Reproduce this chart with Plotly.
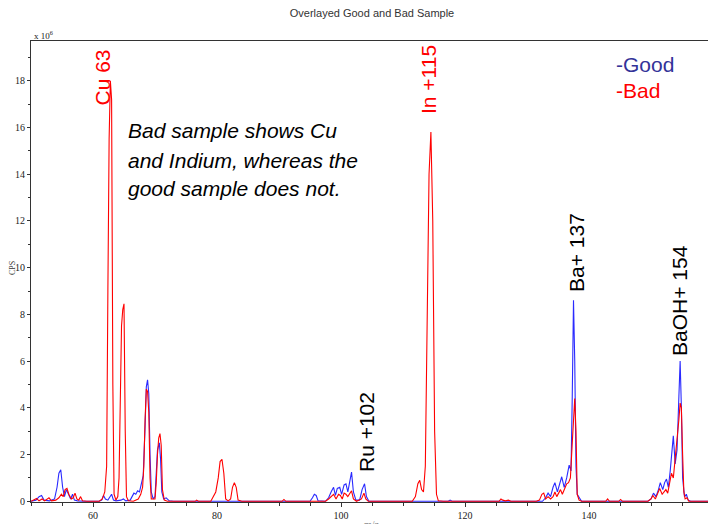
import plotly.graph_objects as go

# ---------------- data (CPS in units of 10^6) ----------------
good_mz = [50.0, 50.8, 51.3, 51.7, 52.1, 52.6, 53.0, 53.8, 54.2, 54.5, 54.8, 55.1, 55.4, 55.7, 56.0, 56.4, 56.7, 57.0,
           57.5, 58.5, 61.0, 61.4, 61.7, 62.0, 62.4, 62.7, 63.0, 63.3, 63.7, 64.5, 64.9, 65.3, 66.0, 66.3, 66.6, 66.9,
           67.2, 67.5, 67.8, 68.1, 68.4, 68.6, 68.8, 69.0, 69.2, 69.4, 69.7, 70.0, 70.2, 70.4, 70.7, 70.9, 71.1, 71.4,
           71.8, 72.3, 73.0, 95.0, 95.4, 95.7, 96.0, 96.3, 97.5, 98.0, 98.4, 98.8, 99.1, 99.4, 99.8, 100.1, 100.5,
           100.8, 101.1, 101.4, 101.7, 102.0, 102.4, 103.0, 103.4, 103.8, 104.1, 104.5, 117.3, 117.6, 117.9, 132.5,
           133.0, 133.4, 133.8, 134.2, 134.5, 134.9, 135.3, 135.6, 136.0, 136.4, 136.8, 137.1, 137.3, 137.5, 137.7,
           137.9, 138.1, 138.4, 138.8, 149.5, 150.0, 150.4, 150.8, 151.2, 151.5, 151.9, 152.2, 152.5, 152.8, 153.1,
           153.4, 153.6, 153.9, 154.2, 154.5, 154.7, 154.9, 155.1, 155.4, 155.7, 156.0, 156.4, 160.0]
good_cps = [0, 0.05, 0.2, 0.25, 0.05, 0.05, 0.02, 0.1, 0.6, 1.2, 1.35, 0.6, 0.2, 0.5, 0.3, 0.1, 0.3, 0.05,
            0.02, 0, 0, 0.05, 0.25, 0.1, 0.05, 0.2, 0.3, 0.05, 0.02, 0.05, 0.1, 0.02, 0.05, 0.2, 0.35, 0.3,
            0.45, 0.4, 0.7, 1.1, 3.2, 4.9, 5.2, 4.6, 2.0, 0.4, 0.1, 0.2, 1.2, 2.2, 2.5, 1.8, 0.4, 0.1,
            0.15, 0.02, 0, 0, 0.15, 0.3, 0.25, 0.02, 0, 0.15, 0.4, 0.6, 0.25, 0.55, 0.6, 0.3, 0.7,
            0.75, 0.4, 0.9, 1.25, 0.4, 0.05, 0.05, 0.5, 0.75, 0.2, 0, 0, 0.05, 0, 0,
            0.15, 0.35, 0.2, 0.6, 0.8, 0.4, 0.8, 1.05, 0.6, 1.0, 1.55, 1.3, 4.5, 8.6, 6.0,
            1.5, 0.3, 0.15, 0, 0, 0.1, 0.35, 0.2, 0.5, 0.8, 0.5, 0.8, 0.95, 0.6, 1.3,
            2.4, 2.8, 1.6, 2.2, 4.5, 6.0, 4.0, 1.0, 0.2, 0.3, 0.05, 0, 0]

bad_mz = [50.0, 50.5, 50.9, 51.3, 51.8, 52.2, 52.9, 53.3, 54.0, 54.5, 54.9, 55.2, 55.5, 55.8, 56.1, 56.5, 56.8, 57.1,
          57.4, 57.7, 58.0, 58.3, 59.0, 61.0, 61.5, 61.9, 62.2, 62.4, 62.6, 62.8, 63.0, 63.2, 63.4, 63.7, 64.0, 64.2,
          64.4, 64.6, 64.8, 65.0, 65.2, 65.4, 65.7, 66.5, 67.3, 67.7, 68.0, 68.2, 68.4, 68.6, 68.8, 69.0, 69.2, 69.4,
          70.0, 70.2, 70.4, 70.6, 70.8, 71.0, 71.2, 71.5, 72.0, 76.5, 76.7, 77.0, 79.0, 79.4, 79.8, 80.2, 80.5, 80.8,
          81.1, 81.4, 81.8, 82.2, 82.5, 82.8, 83.1, 83.4, 84.0, 90.5, 90.8, 91.1, 97.5, 98.0, 98.5, 98.8, 99.2, 99.6,
          99.9, 100.2, 100.5, 100.8, 101.1, 101.4, 101.7, 102.0, 102.5, 103.3, 103.7, 104.0, 104.4, 111.5, 112.0,
          112.4, 112.7, 113.0, 113.3, 113.6, 113.9, 114.2, 114.5, 114.8, 115.1, 115.4, 115.7, 116.5, 125.5, 125.8,
          126.1, 126.5, 127.0, 127.4, 131.5, 132.0, 132.4, 132.7, 133.0, 133.4, 133.8, 134.2, 134.5, 134.8, 135.1,
          135.4, 135.7, 136.0, 136.4, 136.7, 137.0, 137.3, 137.5, 137.7, 137.9, 138.1, 138.4, 138.8, 142.7, 143.0,
          143.3, 144.8, 145.1, 145.4, 149.5, 150.0, 150.3, 150.7, 151.1, 151.4, 151.8, 152.1, 152.4, 152.7, 153.0,
          153.3, 153.6, 153.9, 154.2, 154.5, 154.7, 154.9, 155.1, 155.3, 155.5, 155.8, 156.1, 160.0]
bad_cps = [0, 0.05, 0.12, 0.02, 0.1, 0.02, 0.15, 0.02, 0.05, 0.15, 0.3, 0.2, 0.5, 0.55, 0.3, 0.1, 0.15, 0.35,
           0.1, 0.05, 0.2, 0.02, 0, 0, 0.1, 0.4, 1.5, 9.0, 15.5, 18.0, 17.2, 5.0, 0.3, 0.05, 0.2, 1.0,
           5.0, 7.5, 8.2, 8.45, 3.0, 0.2, 0.02, 0, 0.1, 0.3, 0.6, 1.5, 3.5, 4.8, 4.7, 3.8, 1.0, 0.1,
           0.1, 0.8, 2.0, 2.7, 2.9, 2.4, 0.5, 0.05, 0, 0, 0.05, 0, 0, 0.2, 0.4, 1.0, 1.7, 1.8,
           1.2, 0.1, 0.02, 0.1, 0.6, 0.8, 0.6, 0.05, 0, 0, 0.08, 0, 0, 0.1, 0.25, 0.3, 0.1, 0.3,
           0.25, 0.1, 0.35, 0.3, 0.2, 0.3, 0.45, 0.1, 0, 0.1, 0.35, 0.1, 0, 0, 0.2,
           0.75, 0.9, 0.5, 0.4, 1.5, 7.0, 14.0, 15.8, 12.0, 3.0, 0.3, 0.02, 0, 0, 0.1,
           0.05, 0.02, 0.05, 0, 0, 0.05, 0.3, 0.35, 0.1, 0.2, 0.1, 0.2, 0.4, 0.2, 0.35,
           0.5, 0.3, 0.5, 0.75, 0.8, 1.0, 2.5, 3.5, 4.4, 3.0, 0.3, 0.05, 0, 0, 0.1,
           0, 0, 0.08, 0, 0, 0.1, 0.25, 0.1, 0.35, 0.55, 0.3, 0.4, 0.5, 0.35, 0.8,
           1.2, 1.0, 1.8, 2.4, 3.5, 4.2, 4.0, 2.0, 0.4, 0.1, 0.15, 0, 0]

x_tick_vals = [60, 80, 100, 120, 140, 160]
y_tick_vals = [0, 2, 4, 6, 8, 10, 12, 14, 16, 18]

peak_labels = ["Cu 63", "In +115", "Ru +102", "Ba+ 137", "BaOH+ 154"]
note_lines = ["Bad sample shows Cu", "and Indium, whereas the", "good sample does not."]
legend_labels = ["-Good", "-Bad"]

# ---------------- figure ----------------
# the page body has an 8px default margin, so the figure is shrunk by that much
OFF = 8
PAGE_W, PAGE_H = 716, 524
W, H = PAGE_W - OFF, PAGE_H - OFF
# plot area in page pixels: x 31..713, y 41..502
L, R, T, B = 31 - OFF, PAGE_W - 713, 41 - OFF, PAGE_H - 502
PW, PH = W - L - R, H - T - B


def px(xp):
    """page pixel x -> paper x"""
    return (xp - OFF - L) / PW


def py(yp):
    """page pixel y -> paper y"""
    return (H - B - (yp - OFF)) / PH


fig = go.Figure()
fig.add_trace(go.Scatter(x=good_mz, y=good_cps, mode="lines", name="Good",
                         line=dict(color="#2a2aff", width=1.1), showlegend=False))
fig.add_trace(go.Scatter(x=bad_mz, y=bad_cps, mode="lines", name="Bad",
                         line=dict(color="#ff0000", width=1.1), showlegend=False))

serif = "Liberation Serif, Times New Roman, serif"
sans = "Liberation Sans, Arial, sans-serif"

fig.update_layout(
    width=W, height=H,
    margin=dict(l=L, r=R, t=T, b=B, pad=0),
    paper_bgcolor="white", plot_bgcolor="white",
    title=dict(text="Overlayed Good and Bad Sample", x=(372 - OFF) / W, xanchor="center",
               y=1 - (13 - OFF) / H, yanchor="middle",
               font=dict(family=sans, size=11, color="#333")),
    xaxis=dict(range=[50, 160], tickvals=x_tick_vals, ticks="outside", ticklen=4, tickcolor="#333",
               showgrid=False, zeroline=False, showline=True, linecolor="#333", linewidth=1, mirror=True,
               tickfont=dict(family=serif, size=10, color="#222"),
               minor=dict(dtick=5, ticks="outside", ticklen=3, tickcolor="#333", showgrid=False)),
    yaxis=dict(range=[-0.03, 19.7], tickvals=y_tick_vals, ticks="outside", ticklen=3, tickcolor="#333",
               showgrid=False, zeroline=False, showline=True, linecolor="#333", linewidth=1, mirror=True,
               tickfont=dict(family=serif, size=10, color="#222"),
               minor=dict(dtick=1, ticks="outside", ticklen=2, tickcolor="#333", showgrid=False)),
)

ann = []
# axis decorations
ann.append(dict(text="x 10<sup>6</sup>", x=px(32), y=py(35), xref="paper", yref="paper", xanchor="left",
                yanchor="middle", showarrow=False, font=dict(family=serif, size=9, color="#222")))
ann.append(dict(text="CPS", x=px(12), y=py(268), xref="paper", yref="paper", xanchor="center",
                yanchor="middle", textangle=-90, showarrow=False, font=dict(family=serif, size=8, color="#333")))
ann.append(dict(text="m/z", x=px(372), y=py(517), xref="paper", yref="paper", xanchor="center",
                yanchor="top", showarrow=False, font=dict(family=serif, size=10, color="#888")))

# peak labels (rotated)
label_specs = [
    (peak_labels[0], 101.5, 78, "#ff0000"),
    (peak_labels[1], 428, 80, "#ff0000"),
    (peak_labels[2], 366, 432, "#000000"),
    (peak_labels[3], 576, 253, "#000000"),
    (peak_labels[4], 679, 301, "#000000"),
]
for txt, xp, yp, col in label_specs:
    ann.append(dict(text=txt, x=px(xp), y=py(yp), xref="paper", yref="paper", xanchor="center",
                    yanchor="middle", textangle=-90, showarrow=False,
                    font=dict(family=sans, size=21, color=col)))

# note text
for i, line in enumerate(note_lines):
    ann.append(dict(text="<i>" + line + "</i>", x=px(126), y=py(131 + 29 * i), xref="paper", yref="paper",
                    xanchor="left", yanchor="middle", showarrow=False,
                    font=dict(family=sans, size=21, color="#000")))

# legend text
for i, (lab, col) in enumerate(zip(legend_labels, ["#333399", "#ff0000"])):
    ann.append(dict(text=lab, x=px(614), y=py(64 + 27 * i), xref="paper", yref="paper",
                    xanchor="left", yanchor="middle", showarrow=False,
                    font=dict(family=sans, size=21, color=col)))

fig.update_layout(annotations=ann)
fig.write_html("out.html")
